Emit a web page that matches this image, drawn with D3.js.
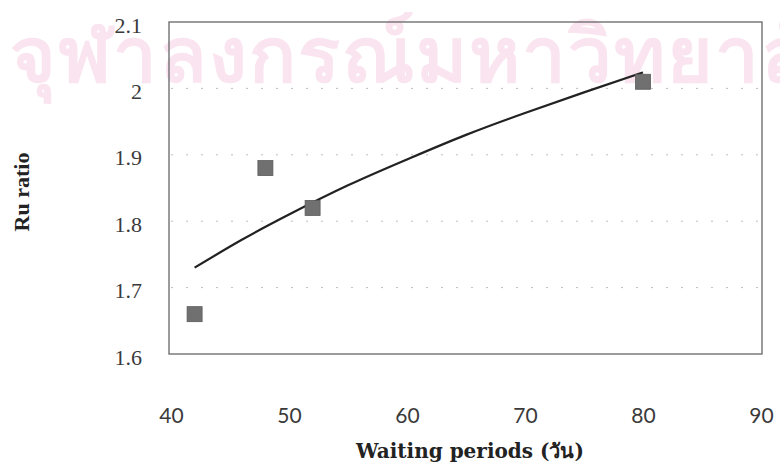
<!DOCTYPE html>
<html>
<head>
<meta charset="utf-8">
<script src="https://cdn.jsdelivr.net/npm/d3@7"></script>
<style>
  body { margin: 0; background: #fff; }
  svg { display: block; }
</style>
</head>
<body>
<svg id="chart"></svg>
<script>
// measured points
const waitDays = [42, 48, 52, 80];
const ruRatio = [1.66, 1.88, 1.82, 2.01];

// trend line
const trendDays = [42, 46, 50, 55, 60, 65, 70, 75, 80];
const trendRatio = [1.73, 1.772, 1.81, 1.854, 1.893, 1.93, 1.963, 1.994, 2.024];

const xTicks = [40, 50, 60, 70, 80, 90];
const yTicks = [1.6, 1.7, 1.8, 1.9, 2.0, 2.1];

const W = 780, H = 466;

const svg = d3.select('#chart')
    .attr('width', W)
    .attr('height', H);

// watermark
svg.append('text')
    .attr('x', 10)
    .attr('y', 82)
    .style('font-family', '"Noto Sans", "DejaVu Sans", sans-serif')
    .style('font-weight', 'bold')
    .style('font-size', '78px')
    .style('letter-spacing', '2px')
    .attr('fill', '#fae4ef')
    .text('จุฬาลงกรณ์มหาวิทยาลัย');

const xscale = d3.scaleLinear().domain([40, 90]).range([171, 761]);
const yscale = d3.scaleLinear().domain([1.6, 2.1]).range([354, 22]);

// faint dotted grid
svg.append('g')
    .selectAll('line')
    .data(yTicks.slice(1, 5))
    .join('line')
    .attr('x1', xscale(40))
    .attr('x2', xscale(90))
    .attr('y1', d => yscale(d))
    .attr('y2', d => yscale(d))
    .attr('stroke', '#bdbdbd')
    .attr('stroke-width', 1)
    .attr('stroke-dasharray', '2,13');

// frame
svg.append('rect')
    .attr('x', xscale(40) - 2)
    .attr('y', yscale(2.1))
    .attr('width', xscale(90) - xscale(40) + 3)
    .attr('height', yscale(1.6) - yscale(2.1))
    .attr('fill', 'none')
    .attr('stroke', '#666')
    .attr('stroke-width', 1.3);

// y axis labels
const yaxis = d3.axisLeft(yscale)
    .tickValues(yTicks)
    .tickFormat(d => d3.format('')(+d.toFixed(1)))
    .tickSize(0)
    .tickPadding(0);

svg.append('g')
    .attr('transform', 'translate(142,3)')
    .call(yaxis)
    .call(g => g.select('.domain').remove())
    .selectAll('text')
    .style('font-family', '"Liberation Serif", "Times New Roman", serif')
    .style('font-size', '22px')
    .attr('fill', '#3a3a3a');

// x axis labels (sit well below the frame)
const xaxis = d3.axisBottom(xscale)
    .tickValues(xTicks)
    .tickSize(0)
    .tickPadding(0);

svg.append('g')
    .attr('transform', 'translate(0,408)')
    .call(xaxis)
    .call(g => g.select('.domain').remove())
    .selectAll('text')
    .style('font-family', 'Lato, "Open Sans", sans-serif')
    .style('font-size', '21px')
    .attr('fill', '#3a3a3a');

// trend curve
const line = d3.line()
    .x((d, i) => xscale(trendDays[i]))
    .y(d => yscale(d))
    .curve(d3.curveNatural);

svg.append('path')
    .attr('d', line(trendRatio))
    .attr('fill', 'none')
    .attr('stroke', '#222')
    .attr('stroke-width', 2.2);

// square markers
const sz = 15;
svg.append('g')
    .selectAll('rect')
    .data(waitDays)
    .join('rect')
    .attr('x', d => xscale(d) - sz / 2)
    .attr('y', (d, i) => yscale(ruRatio[i]) - sz / 2)
    .attr('width', sz)
    .attr('height', sz)
    .attr('fill', '#707070')
    .attr('stroke', '#5a5a5a')
    .attr('stroke-width', 0.8);

// axis titles
svg.append('text')
    .attr('x', 470)
    .attr('y', 458)
    .attr('text-anchor', 'middle')
    .style('font-family', '"DejaVu Serif", "Liberation Serif", serif')
    .style('font-weight', 'bold')
    .style('font-size', '20px')
    .attr('fill', '#222')
    .text('Waiting periods (วัน)');

svg.append('text')
    .attr('transform', 'translate(29,192) rotate(-90)')
    .attr('text-anchor', 'middle')
    .style('font-family', '"Liberation Serif", "DejaVu Serif", serif')
    .style('font-weight', 'bold')
    .style('font-size', '22px')
    .attr('fill', '#222')
    .text('Ru ratio');
</script>
</body>
</html>
